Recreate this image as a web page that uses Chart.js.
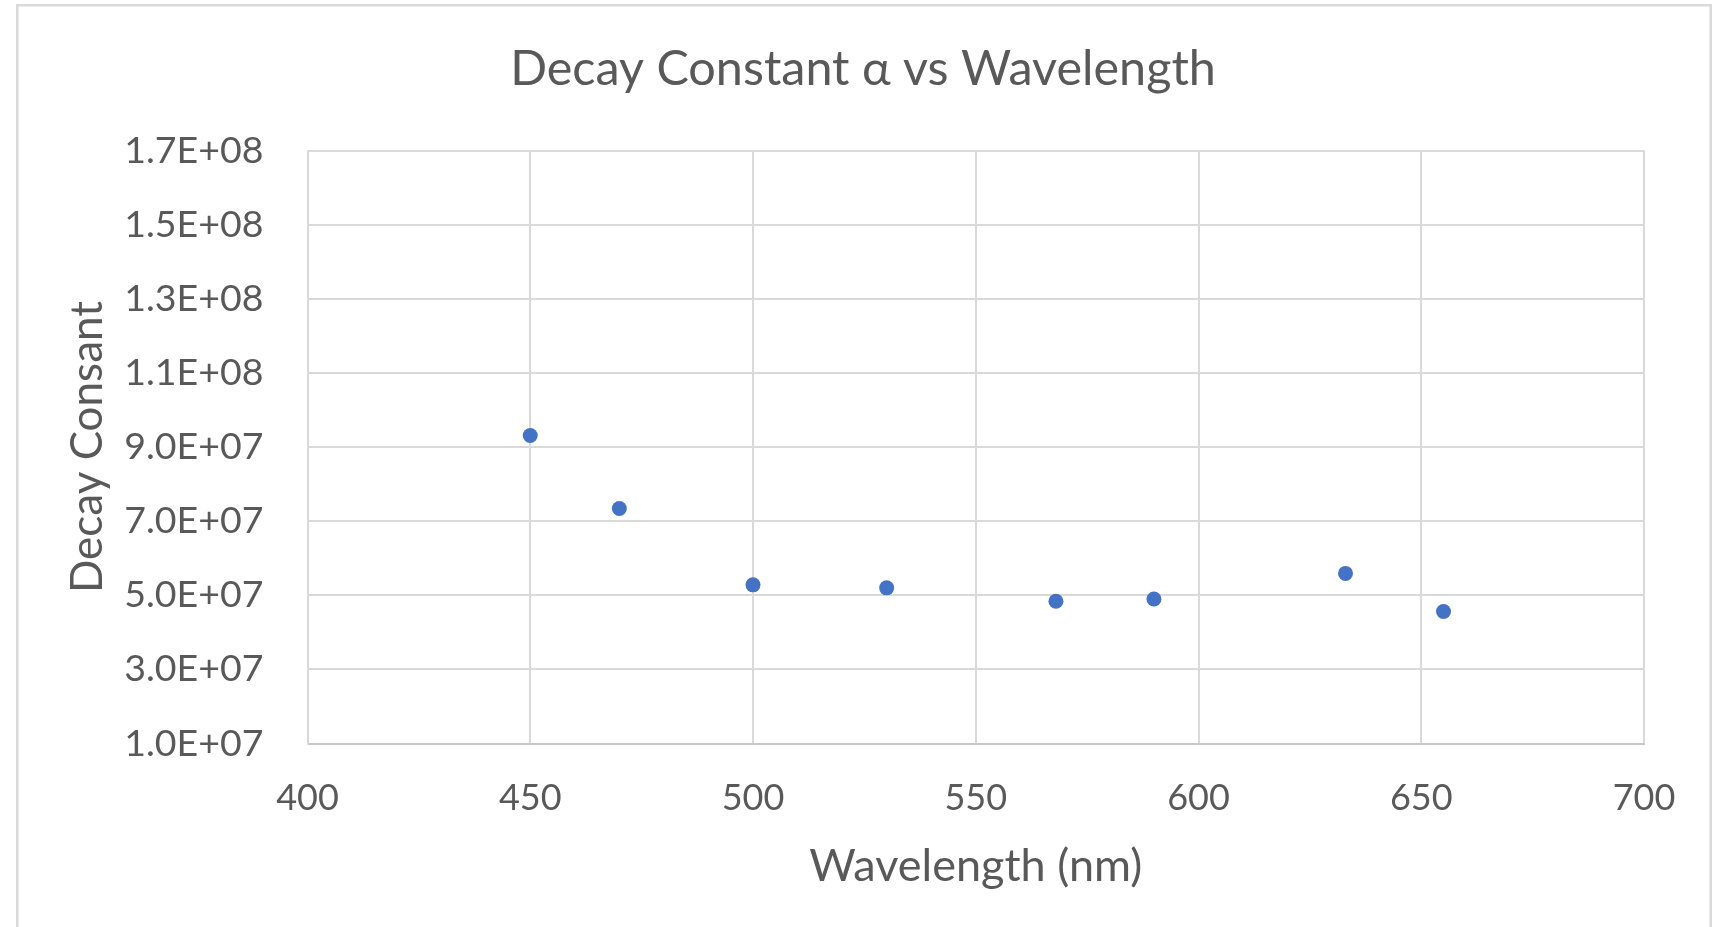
<!DOCTYPE html>
<html>
<head>
<meta charset="utf-8">
<script src="https://cdn.jsdelivr.net/npm/chart.js@4/dist/chart.umd.min.js"></script>
<style>
  html, body { margin: 0; padding: 0; background: #ffffff; }
  #wrap { position: absolute; left: 0; top: 0; width: 1722px; height: 927px; }
</style>
</head>
<body>
<div id="wrap"><canvas id="c" width="1722" height="927"></canvas></div>
<script>
// ---- data ----
const chartTitle = "Decay Constant \u03B1 vs Wavelength";
const xAxisTitle = "Wavelength (nm)";
const yAxisTitle = "Decay Consant";
const wavelengths = [450, 470, 500, 530, 568, 590, 633, 655];
const decayConstants = [9.31e7, 7.34e7, 5.28e7, 5.20e7, 4.84e7, 4.90e7, 5.59e7, 4.56e7];
const xTickRange = [400, 700, 50];
const yTickRange = [1.0e7, 1.7e8, 2.0e7];

function sciLabel(v) {
  const parts = Number(v).toExponential(1).toUpperCase().split('E');
  const sign = parts[1][0] === '-' ? '-' : '+';
  const exp = parts[1].replace(/^[+-]/, '').padStart(2, '0');
  return parts[0] + 'E' + sign + exp;
}

const points = wavelengths.map((x, i) => ({ x: x, y: decayConstants[i] }));

const outerBorder = {
  id: 'outerBorder',
  beforeDraw(chart) {
    const ctx = chart.ctx;
    ctx.save();
    ctx.fillStyle = '#ffffff';
    ctx.fillRect(0, 0, chart.width, chart.height);
    ctx.strokeStyle = '#d9d9d9';
    ctx.lineWidth = 2.5;
    ctx.strokeRect(17.3, 5.2, 1710.7 - 17.3, 1000);
    ctx.restore();
  }
};

const FONT = 'Lato, "Open Sans", sans-serif';
const TXT = '#595959';

new Chart(document.getElementById('c'), {
  type: 'scatter',
  data: {
    datasets: [{
      data: points,
      backgroundColor: '#4472C4',
      borderColor: '#4472C4',
      borderWidth: 0,
      pointRadius: 7.5,
      pointHoverRadius: 7.5
    }]
  },
  plugins: [outerBorder],
  options: {
    responsive: false,
    devicePixelRatio: 1,
    animation: false,
    layout: { padding: { left: 4, right: 0, top: 0, bottom: 0 } },
    plugins: {
      legend: { display: false },
      tooltip: { enabled: false },
      title: {
        display: true,
        text: chartTitle,
        color: TXT,
        font: { family: FONT, size: 48.5, weight: 'normal', lineHeight: 1.2 },
        padding: { top: 40, bottom: 52.3 }
      }
    },
    scales: {
      x: {
        type: 'linear',
        min: xTickRange[0],
        max: xTickRange[1],
        ticks: {
          stepSize: xTickRange[2],
          color: TXT,
          font: { family: FONT, size: 36, lineHeight: 1.2 },
          padding: 33,
          maxRotation: 0
        },
        grid: { color: '#d9d9d9', lineWidth: 2, drawTicks: false },
        border: { color: '#c8c8c8', width: 2 },
        title: {
          display: true,
          text: xAxisTitle,
          color: TXT,
          font: { family: FONT, size: 45, lineHeight: 1.2 },
          padding: { top: 0, bottom: 33.5 }
        },
        afterFit(scale) { scale.height = 927 - 743.5; }
      },
      y: {
        type: 'linear',
        min: yTickRange[0],
        max: yTickRange[1],
        ticks: {
          stepSize: yTickRange[2],
          color: TXT,
          font: { family: FONT, size: 37.5, lineHeight: 1.2 },
          padding: 44,
          callback: (v) => sciLabel(v)
        },
        grid: { color: '#d9d9d9', lineWidth: 2, drawTicks: false },
        border: { color: '#d9d9d9', width: 2 },
        title: {
          display: true,
          text: yAxisTitle,
          color: TXT,
          font: { family: FONT, size: 44, lineHeight: 1.2 },
          padding: { top: 57.6, bottom: 0 }
        },
        afterFit(scale) { scale.width = 307.5 - 4; }
      },
      yRightSpace: {
        type: 'linear',
        position: 'right',
        display: true,
        min: 0,
        max: 1,
        ticks: { display: false },
        grid: { display: false, drawTicks: false },
        border: { display: false },
        afterFit(scale) { scale.width = 1722 - 1644; }
      }
    }
  }
});
</script>
</body>
</html>
